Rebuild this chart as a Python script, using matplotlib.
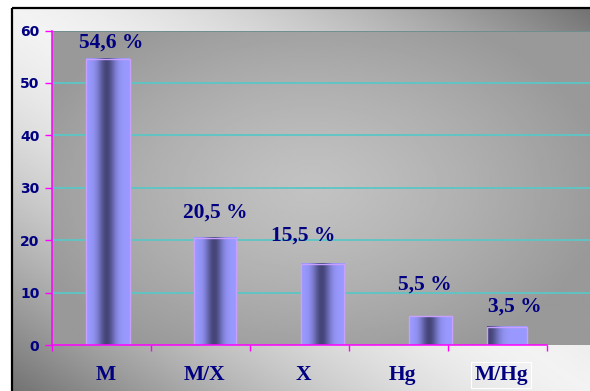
import numpy as np
import matplotlib
matplotlib.use("Agg")
import matplotlib.pyplot as plt

# ---- data ----
categories = ["M", "M/X", "X", "Hg", "M/Hg"]
shares = [54.6, 20.5, 15.5, 5.5, 3.5]
value_labels = ["54,6 %", "20,5 %", "15,5 %", "5,5 %", "3,5 %"]
y_ticks = [0, 10, 20, 30, 40, 50, 60]

# ---- layout / style ----
bar_shift = [0.068, 0.149, 0.235, 0.323, 0.097]   # bar offset from category centre
bar_width = [0.437, 0.43, 0.437, 0.43, 0.40]
shade_peak = [0.47, 0.47, 0.47, 0.47, 0.05]       # where the cylinder shading is darkest
shade_sigma = [0.2, 0.2, 0.2, 0.2, 0.25]
label_offset = [(3, 11), (0, 20), (-19, 23), (-5, 27), (8, 15)]  # pixels

NAVY = "#000080"
MAGENTA = "#ff00ff"
GRID = "#5cc6c6"

W, H = 590, 391
fig = plt.figure(figsize=(W / 100, H / 100), dpi=100)
fig.patch.set_facecolor("white")

# ---- frame background with diagonal sheen ----
bg = fig.add_axes([0, 0, 1, 1])
bg.set_xlim(0, W)
bg.set_ylim(H, 0)
bg.axis("off")
fx0, fy0 = 12, 8
uu, vv = np.meshgrid(np.linspace(0, 1, 400), np.linspace(0, 1, 300))
sheen = 0.95 - 0.5 * np.abs(uu - vv) ** 1.5
bg.imshow(sheen, cmap="gray", vmin=0, vmax=1, extent=(fx0, W, H, fy0),
          aspect="auto", interpolation="bilinear")
bg.plot([fx0, fx0], [H, fy0], color="black", lw=1.6, solid_capstyle="butt")
bg.plot([fx0, W], [fy0, fy0], color="black", lw=1.6, solid_capstyle="butt")
bg.set_xlim(0, W)
bg.set_ylim(H, 0)

# ---- plot area ----
left_px, right_px, top_px, bottom_px = 51.9, W, 30.5, 345.3
cat_px = 98.96
ax = fig.add_axes([left_px / W, (H - bottom_px) / H,
                   (right_px - left_px) / W, (bottom_px - top_px) / H])
ax.patch.set_visible(False)
xmax = -0.5 + (right_px - left_px) / cat_px

pu, pv = np.meshgrid(np.linspace(0, 1, 300), np.linspace(0, 1, 200))
r = np.sqrt(((pu - 0.48) / 0.55) ** 2 + ((pv - 0.5) / 0.6) ** 2)
area = 0.76 - 0.16 * np.clip(r, 0, 1) ** 1.3
ax.imshow(area, cmap="gray", vmin=0, vmax=1, extent=(-0.5, xmax, 0, 60),
          aspect="auto", interpolation="bilinear", zorder=0)

for t in y_ticks[1:-1]:
    ax.axhline(t, color=GRID, lw=1.3, zorder=1)
ax.axhline(60, color="#6a8c8c", lw=1.2, zorder=1)

# ---- bars with cylinder shading ----
xs = np.arange(len(categories)) + np.array(bar_shift)
light = np.array([0.60, 0.60, 1.00])
dark = np.array([0.27, 0.27, 0.47])
tt = np.linspace(0, 1, 80)
for i, (x, v) in enumerate(zip(xs, shares)):
    k = np.exp(-((tt - shade_peak[i]) / shade_sigma[i]) ** 2)[:, None]
    row = light * (1 - k) + dark * k
    w = bar_width[i]
    ax.imshow(row[None, :, :], extent=(x - w / 2, x + w / 2, 0, v),
              aspect="auto", interpolation="bilinear", zorder=2)
ax.bar(xs, shares, width=bar_width, fill=False, edgecolor="#c8a0ff",
       linewidth=1.0, zorder=3)

for i, (x, v) in enumerate(zip(xs, shares)):
    ax.annotate(value_labels[i], xy=(x, v), xytext=label_offset[i],
                textcoords="offset pixels", ha="center", va="baseline",
                fontsize=15.5, fontfamily="Liberation Serif", fontweight="bold",
                color=NAVY, zorder=4, annotation_clip=False)

ax.set_xlim(-0.5, xmax)
ax.set_ylim(0, 60)

# ---- axes ----
for s in ("top", "right"):
    ax.spines[s].set_visible(False)
ax.spines["left"].set_color(MAGENTA)
ax.spines["bottom"].set_color(MAGENTA)
ax.spines["left"].set_linewidth(1.1)
ax.spines["bottom"].set_linewidth(1.1)
ax.spines["bottom"].set_bounds(-0.5, len(categories) - 0.5)
ax.spines["left"].set_zorder(5)
ax.spines["bottom"].set_zorder(5)

ax.set_yticks(y_ticks)
ax.set_yticklabels([str(t) for t in y_ticks], fontsize=10, fontweight="bold",
                   fontfamily="DejaVu Sans", color=NAVY)
ax.tick_params(axis="y", direction="out", length=5, width=1, color=MAGENTA,
               pad=4)

ax.set_xticks(np.arange(-0.5, len(categories), 1.0))
ax.set_xticklabels([])
ax.tick_params(axis="x", which="major", direction="out", length=4, width=1,
               color=MAGENTA)
ax.set_xticks(np.arange(len(categories)) + 0.04, minor=True)
ax.set_xticklabels(categories, minor=True, fontsize=15.5, fontweight="bold",
                   fontfamily="Liberation Serif", color=NAVY)
ax.tick_params(axis="x", which="minor", length=0, pad=14)
ax.get_xticklabels(minor=True)[-1].set_bbox(
    dict(boxstyle="square,pad=0.15", facecolor="none", edgecolor="white", lw=0.8))

fig.savefig("out.png", dpi=100)
